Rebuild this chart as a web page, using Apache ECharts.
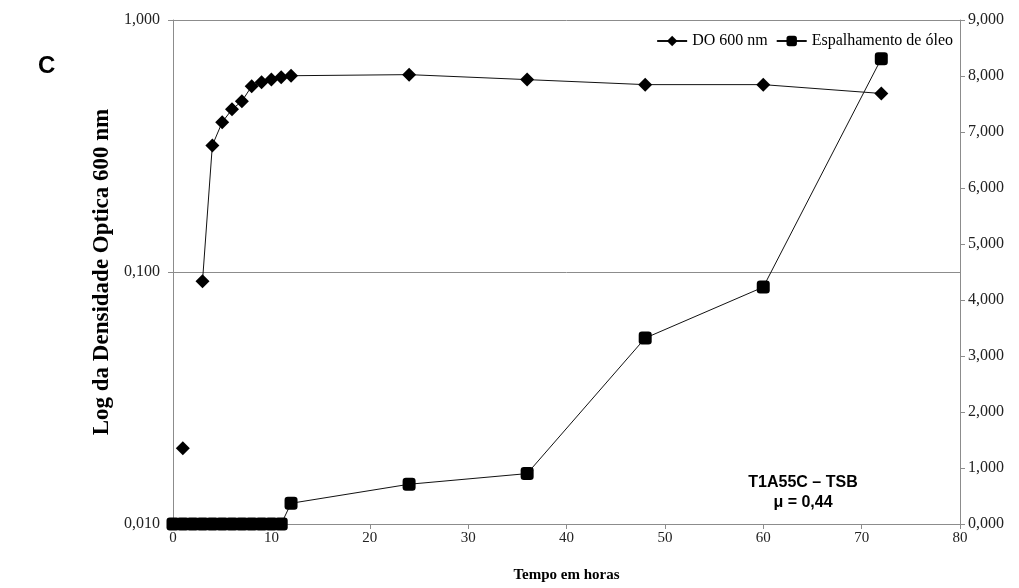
<!DOCTYPE html>
<html>
<head>
<meta charset="utf-8">
<script src="https://cdn.jsdelivr.net/npm/echarts@6/dist/echarts.min.js"></script>
<style>html,body{margin:0;padding:0;background:#fff;}#c{width:1019px;height:588px;}</style>
</head>
<body>
<div id="c"></div>
<script>
// Data
const hoursDO = [1, 2, 3, 4, 5, 6, 7, 8, 9, 10, 11, 12, 24, 36, 48, 60, 72];
const do600 = [0.020, null, 0.092, 0.318, 0.393, 0.442, 0.476, 0.546, 0.566, 0.580, 0.592, 0.601, 0.607, 0.580, 0.554, 0.554, 0.511];
const hoursOil = [0, 1, 2, 3, 4, 5, 6, 7, 8, 9, 10, 11, 12, 24, 36, 48, 60, 72];
const oilSpread = [0, 0, 0, 0, 0, 0, 0, 0, 0, 0, 0, 0, 0.37, 0.71, 0.90, 3.32, 4.23, 8.31];
const leftTicks = [0.01, 0.1, 1];
const seriesNames = ['DO 600 nm', 'Espalhamento de óleo'];

const fmt = v => Number(v).toFixed(3).replace('.', ',');
const serif = 'Liberation Serif';
const axisGray = '#8c8c8c';

const chart = echarts.init(document.getElementById('c'), null, {renderer: 'canvas'});
chart.setOption({
  animation: false,
  backgroundColor: '#fff',
  grid: {left: 173, right: 59, top: 20, bottom: 56, containLabel: false},
  legend: {
    data: seriesNames,
    right: 66, top: 33,
    itemWidth: 30, itemHeight: 13, itemGap: 8,
    textStyle: {fontFamily: serif, fontSize: 16, color: '#000'},
    padding: 0
  },
  xAxis: {
    type: 'value', min: 0, max: 80, interval: 10,
    name: 'Tempo em horas', nameLocation: 'middle', nameGap: 44,
    nameTextStyle: {fontFamily: serif, fontSize: 15, fontWeight: 'bold', color: '#000'},
    axisLine: {lineStyle: {color: axisGray, width: 1}},
    axisTick: {show: true, inside: false, length: 5, lineStyle: {color: axisGray}},
    axisLabel: {fontFamily: serif, fontSize: 15, color: '#222', margin: 7},
    splitLine: {show: false}
  },
  yAxis: [{
    type: 'log', logBase: 10, min: leftTicks[0], max: leftTicks[leftTicks.length - 1],
    name: 'Log da Densidade Optica 600 nm', nameLocation: 'middle', nameGap: 50,
    nameTextStyle: {fontFamily: serif, fontSize: 23, fontWeight: 'bold', color: '#000'},
    axisLine: {show: true, lineStyle: {color: axisGray, width: 1}},
    axisTick: {show: true, length: 5, lineStyle: {color: axisGray}},
    axisLabel: {fontFamily: serif, fontSize: 16, color: '#222', margin: 13, formatter: fmt},
    splitLine: {show: true, lineStyle: {color: axisGray, width: 1}},
    minorTick: {show: false}
  }, {
    type: 'value', min: 0, max: 9, interval: 1, position: 'right',
    axisLine: {show: true, lineStyle: {color: axisGray, width: 1}},
    axisTick: {show: true, length: 5, lineStyle: {color: axisGray}},
    axisLabel: {fontFamily: serif, fontSize: 16, color: '#222', margin: 8, formatter: fmt},
    splitLine: {show: false}
  }],
  series: [{
    name: seriesNames[0], type: 'line', yAxisIndex: 0,
    data: hoursDO.map((h, i) => [h, do600[i]]),
    connectNulls: false,
    symbol: 'diamond', symbolSize: 14,
    itemStyle: {color: '#000'},
    lineStyle: {color: '#111', width: 1}
  }, {
    name: seriesNames[1], type: 'line', yAxisIndex: 1,
    data: hoursOil.map((h, i) => [h, oilSpread[i]]),
    symbol: 'roundRect', symbolSize: 13,
    itemStyle: {color: '#000'},
    lineStyle: {color: '#111', width: 1}
  }],
  graphic: [{
    type: 'text', x: 38, y: 54,
    style: {text: 'C', font: 'bold 24px "Liberation Sans", Arial', fill: '#000'}
  }, {
    type: 'text', x: 803, y: 473,
    style: {text: 'T1A55C – TSB\nμ = 0,44', font: 'bold 16px "Liberation Sans", Arial', fill: '#000', align: 'center', lineHeight: 20}
  }]
});
</script>
</body>
</html>
